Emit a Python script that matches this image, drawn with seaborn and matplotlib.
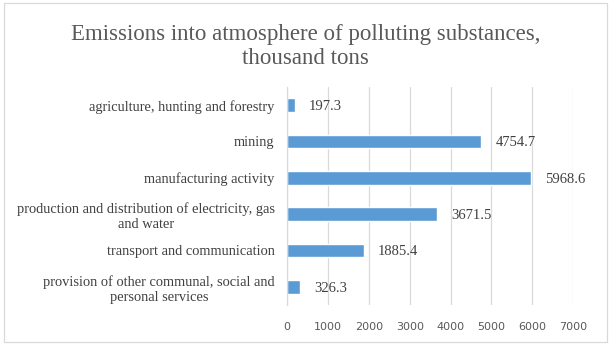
import matplotlib
matplotlib.use("Agg")
import matplotlib.pyplot as plt
import seaborn as sns
import pandas as pd
from matplotlib.patches import Rectangle

categories = [
    "agriculture, hunting and forestry",
    "mining",
    "manufacturing activity",
    "production and distribution of electricity, gas\nand water",
    "transport and communication",
    "provision of other communal, social and\npersonal services",
]
values = [197.3, 4754.7, 5968.6, 3671.5, 1885.4, 326.3]
xticks = [0, 1000, 2000, 3000, 4000, 5000, 6000, 7000]
title = "Emissions into atmosphere of polluting substances,\nthousand tons"

df = pd.DataFrame({"cat": categories, "val": values})

sns.set_theme(style="white")
plt.rcParams["font.family"] = ["Liberation Serif", "DejaVu Serif"]

fig = plt.figure(figsize=(6.11, 3.45), dpi=100)
ax = fig.add_axes([0.470, 0.116, 0.468, 0.632])

sns.barplot(data=df, y="cat", x="val", orient="h", color="#5B9BD5",
            saturation=1, width=0.38, ax=ax)

ax.set_xlim(0, 7000)
ax.set_xticks(xticks)
ax.set_xticklabels([str(t) for t in xticks], family="DejaVu Sans",
                   fontsize=8, color="#595959")
ax.set_xlabel("")
ax.set_ylabel("")
ax.grid(axis="x", color="#D9D9D9", linewidth=0.9)
ax.set_axisbelow(True)
for s in ["top", "right", "bottom"]:
    ax.spines[s].set_visible(False)
ax.spines["left"].set_color("#D9D9D9")
ax.spines["left"].set_linewidth(0.9)
ax.tick_params(axis="both", length=0)
ax.tick_params(axis="x", pad=12)
ax.tick_params(axis="y", pad=9)
for lbl in ax.get_yticklabels():
    lbl.set_fontsize(10.4)
    lbl.set_color("#404040")
    lbl.set_multialignment("center")

for i, v in enumerate(values):
    ax.annotate(f"{v}", xy=(v, i), xytext=(10, -1), textcoords="offset points",
                ha="left", va="center", fontsize=10.5, color="#404040")

fig.text(0.5, 0.865, title, ha="center", va="center", fontsize=16.5,
         color="#595959", linespacing=1.15)

fig.patches.append(Rectangle((0.006, 0.01), 0.988, 0.98, transform=fig.transFigure,
                             fill=False, edgecolor="#D9D9D9", linewidth=0.9))

fig.savefig("out.png", dpi=100, facecolor="white")
